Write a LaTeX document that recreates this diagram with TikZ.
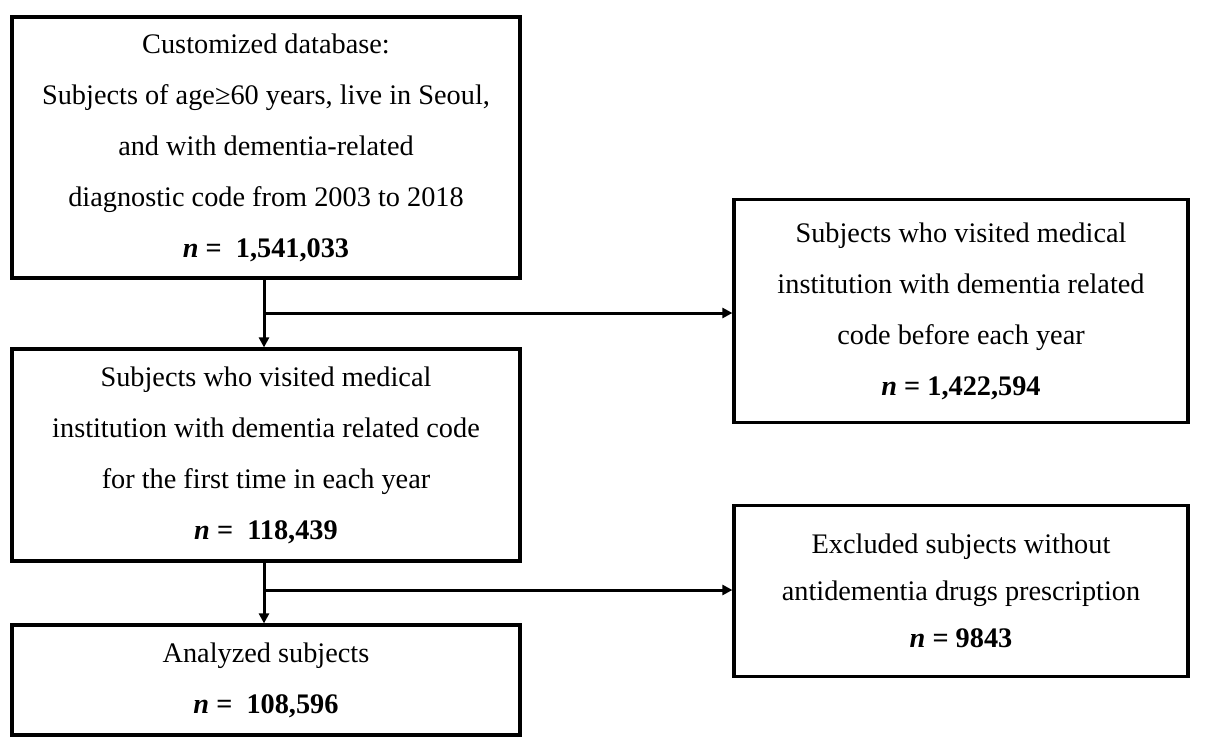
\documentclass[tikz,border=0pt]{standalone}
\usepackage{fontspec}
\setmainfont{Liberation Serif}
\usetikzlibrary{arrows.meta}
\begin{document}
\begin{tikzpicture}[x=1pt,y=-1pt,
  box/.style={draw=black,line width=3.2pt,inner sep=0pt,align=center,
    font=\fontsize{28.3}{51}\selectfont,minimum width=508pt},
  rbox/.style={box,minimum width=454pt},
  arr/.style={line width=3pt,-{Triangle[length=10pt,width=10pt]}}]
\useasboundingbox (0,0) rectangle (1205,752);
\node[box,minimum height=261pt] (A) at (266,147.5)
 {Customized database:\\Subjects of age≥60 years, live in Seoul,\\and with dementia-related\\diagnostic code from 2003 to 2018\\\textbf{\textit{n} =\ \ 1,541,033}};
\node[box,minimum height=212pt] (B) at (266,455)
 {Subjects who visited medical\\institution with dementia related code\\for the first time in each year\\\textbf{\textit{n} =\ \ 118,439}};
\node[box,minimum height=110pt] (D) at (266,680)
 {Analyzed subjects\\\textbf{\textit{n} =\ \ 108,596}};
\node[rbox,minimum height=223pt] (C) at (961,311)
 {Subjects who visited medical\\institution with dementia related\\code before each year\\\textbf{\textit{n} = 1,422,594}};
\node[rbox,minimum height=171pt,font=\fontsize{28.3}{47}\selectfont] (E) at (961,591)
 {Excluded subjects without\\antidementia drugs prescription\\\textbf{\textit{n} = 9843}};
\coordinate (j1) at (264,313);
\coordinate (j2) at (264,590);
\draw[arr] (A.south -| j1) -- (B.north -| j1);
\draw[arr] (j1) -- (C.west |- j1);
\draw[arr] (B.south -| j2) -- (D.north -| j2);
\draw[arr] (j2) -- (E.west |- j2);
\end{tikzpicture}
\end{document}
